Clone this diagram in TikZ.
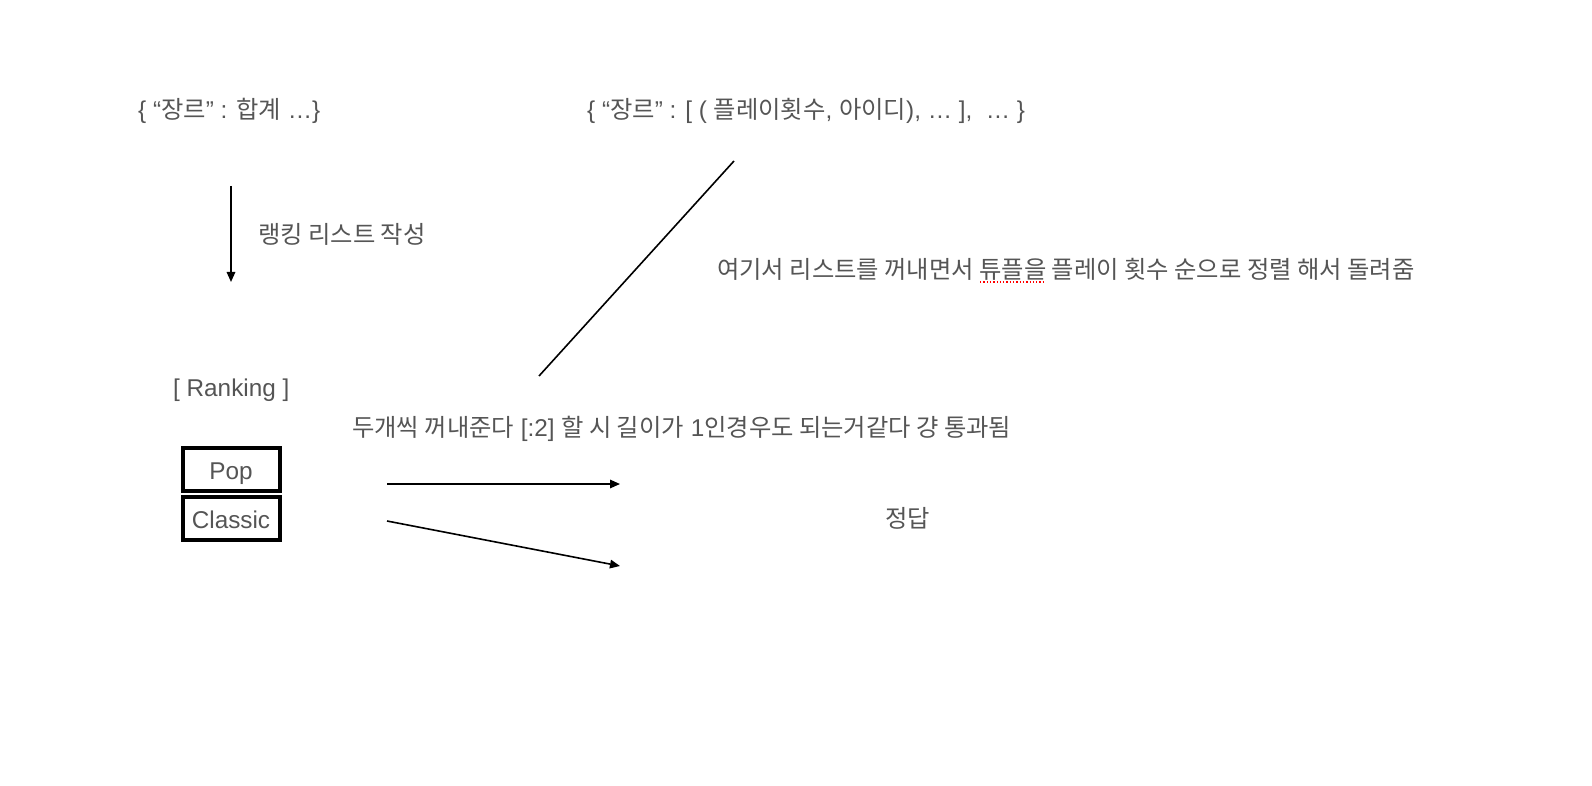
\documentclass[tikz,border=0pt]{standalone}
\usepackage{fontspec}
\setmainfont{Liberation Sans}
\newfontfamily\krfont{Noto Sans CJK KR}
\newcommand\K[1]{{\krfont #1}}
\usetikzlibrary{arrows.meta}
\definecolor{txt}{HTML}{555555}
\tikzset{
  lbl/.style={anchor=west, inner sep=0pt, text=txt, font=\fontsize{24.3}{29}\selectfont},
  conn/.style={line width=1.6pt, -{Triangle[length=10pt,width=8.5pt]}},
  plain/.style={line width=1.6pt},
  rank/.style={draw, line width=4pt, minimum width=97pt, minimum height=43pt, inner sep=0pt, text height=20pt, text depth=0pt, text=txt, font=\fontsize{24.3}{29}\selectfont},
  spell/.style={red, dotted, line width=1.3pt},
}
\begin{document}
\begin{tikzpicture}[x=1pt,y=-1pt]
\useasboundingbox (0,0) rectangle (1592,786);
\node[lbl] (sum) at (138,110.5) {\{ “\K{장르}” : \K{합계} …\}};
\node[lbl] (dict) at (587,110.5) {\{ “\K{장르}” : [ ( \K{플레이횟수}, \K{아이디}), … ],~ … \}};
\coordinate (a1s) at (231,186);
\coordinate (a1e) at (231,282);
\draw[conn] (a1s) -- (a1e);
\node[lbl] (mk) at (258,234) {\K{랭킹 리스트 작성}};
\coordinate (d1) at (734,161);
\coordinate (d2) at (539,376);
\draw[plain] (d1) -- (d2);
\node[lbl] (sortnote) at (717,269) {\K{여기서 리스트를 꺼내면서 튜플을 플레이 횟수 순으로 정렬 해서 돌려줌}};
\coordinate (sp1) at (980,282);
\coordinate (sp2) at (1045,282);
\draw[spell] (sp1) -- (sp2);
\node[lbl] (ranking) at (173,390) {[ Ranking ]};
\node[lbl] (twonote) at (352,429) {\K{두개씩 꺼내준다} [:2] \K{할 시 길이가} 1\K{인경우도 되는거같다 걍 통과됨}};
\node[rank] (pop) at (231,469) {Pop};
\node[rank] (classic) at (231,518) {Classic};
\coordinate (r1s) at (387,484);
\coordinate (r1e) at (620,484);
\coordinate (r2s) at (387,521);
\coordinate (r2e) at (620,566);
\draw[conn] (r1s) -- (r1e);
\draw[conn] (r2s) -- (r2e);
\node[lbl] (ans) at (885,518) {\K{정답}};
\end{tikzpicture}
\end{document}
